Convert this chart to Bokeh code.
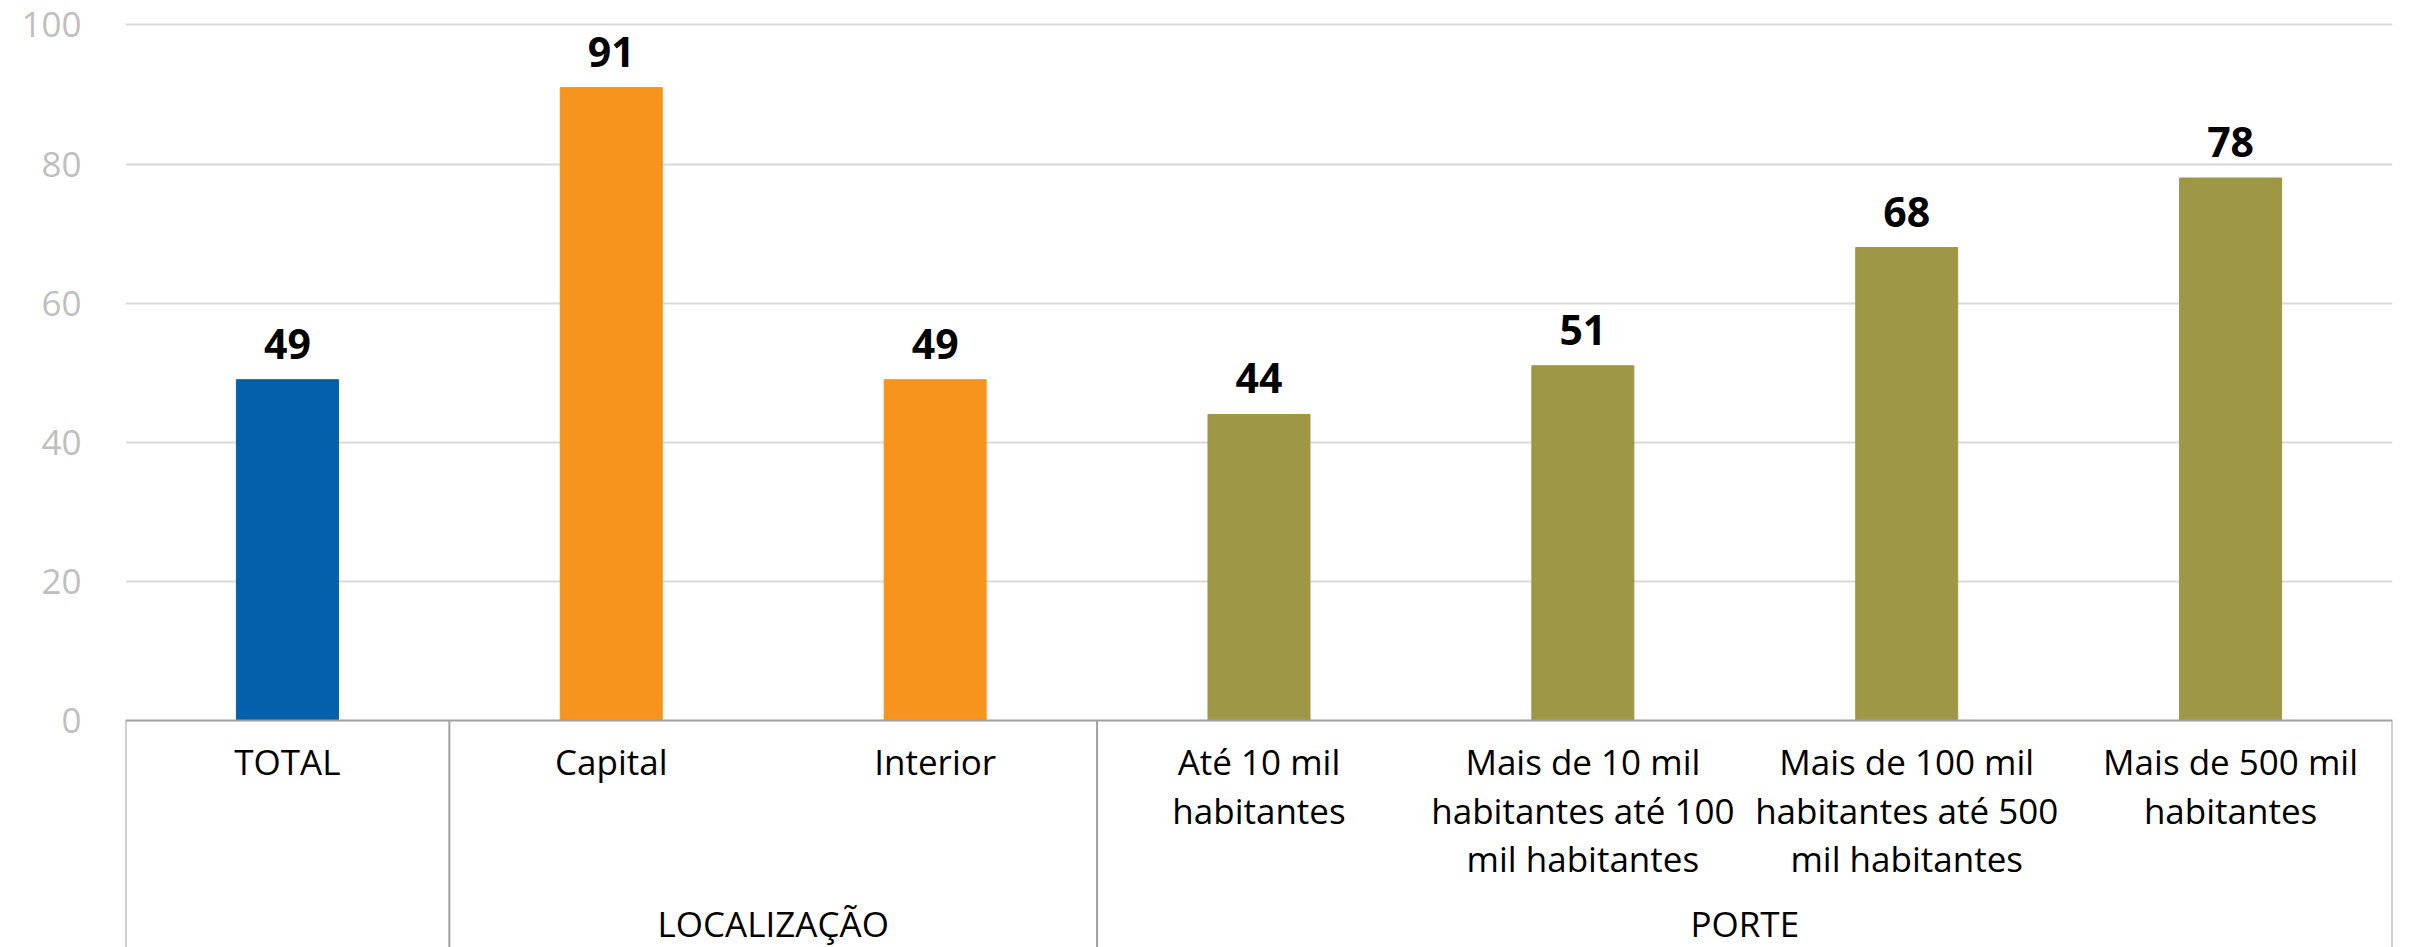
from bokeh.plotting import figure
from bokeh.models import Range1d, FixedTicker, ColumnDataSource
from bokeh.core.properties import value
from bokeh.embed import file_html
from bokeh.resources import INLINE

# ---- data ----
categories = ["TOTAL", "Capital", "Interior", "Até 10 mil habitantes",
              "Mais de 10 mil habitantes até 100 mil habitantes",
              "Mais de 100 mil habitantes até 500 mil habitantes",
              "Mais de 500 mil habitantes"]
label_lines = [["TOTAL"], ["Capital"], ["Interior"],
               ["Até 10 mil", "habitantes"],
               ["Mais de 10 mil", "habitantes até 100", "mil habitantes"],
               ["Mais de 100 mil", "habitantes até 500", "mil habitantes"],
               ["Mais de 500 mil", "habitantes"]]
values = [49, 91, 49, 44, 51, 68, 78]
groups = ["", "LOCALIZAÇÃO", "LOCALIZAÇÃO", "PORTE", "PORTE", "PORTE", "PORTE"]
group_names = ["", "LOCALIZAÇÃO", "PORTE"]
group_colors = {"": "#0560AC", "LOCALIZAÇÃO": "#F7941D", "PORTE": "#9E9746"}
y_ticks = [0, 20, 40, 60, 80, 100]

FONT = "Open Sans"
n = len(categories)
xs = [i + 0.5 for i in range(n)]

p = figure(width=2413, height=947, output_backend="svg", toolbar_location=None,
           x_range=Range1d(0, n), y_range=Range1d(-32.64, 103.52),
           min_border_left=125, min_border_right=21, min_border_top=0,
           min_border_bottom=0)
p.outline_line_color = None
p.xaxis.visible = False
p.xgrid.visible = False

yax = p.yaxis[0]
yax.ticker = FixedTicker(ticks=y_ticks)
yax.bounds = (0, 100)
yax.axis_line_color = None
yax.major_tick_line_color = None
yax.minor_tick_line_color = None
yax.major_label_standoff = 38
yax.major_label_text_font = FONT
yax.major_label_text_font_size = "35px"
yax.major_label_text_color = "#BFBFBF"

p.ygrid.ticker = FixedTicker(ticks=y_ticks[1:])
p.ygrid.bounds = (0, 100)
p.ygrid.grid_line_color = "#D9D9D9"
p.ygrid.grid_line_width = 2

src = ColumnDataSource(dict(x=xs, top=values, color=[group_colors[g] for g in groups],
                            lab=[str(v) for v in values]))
p.vbar(x="x", top="top", bottom=0, width=0.315, color="color", source=src)

p.text(x="x", y="top", text="lab", source=src, text_align="center",
       text_baseline="middle", y_offset=-36, text_font=value(FONT),
       text_font_style="bold", text_font_size="41px", text_color="#000000")

# category labels (one glyph per line)
for li in range(3):
    lx, lt = [], []
    for i, lines in enumerate(label_lines):
        if li < len(lines):
            lx.append(xs[i]); lt.append(lines[li])
    p.text(x=lx, y=[0] * len(lx), text=lt, text_align="center",
           text_baseline="middle", y_offset=41.5 + 48.5 * li,
           text_font=value(FONT), text_font_size="35px", text_color="#000000")

# group boxes and labels
counts = [groups.count(g) for g in group_names]
bounds = [0]
for c in counts:
    bounds.append(bounds[-1] + c)
p.segment(x0=[0], y0=[0], x1=[n], y1=[0], line_color="#A0A0A0", line_width=2)
p.segment(x0=bounds, y0=[0] * len(bounds), x1=bounds, y1=[-40] * len(bounds),
          line_color="#A0A0A0", line_width=2)
gx, gt = [], []
for gi, g in enumerate(group_names):
    if g:
        gx.append((bounds[gi] + bounds[gi + 1]) / 2); gt.append(g)
p.text(x=gx, y=[0] * len(gx), text=gt, text_align="center",
       text_baseline="middle", y_offset=203, text_font=value(FONT),
       text_font_size="35px", text_color="#000000")

open("out.html", "w").write(file_html(p, INLINE))
